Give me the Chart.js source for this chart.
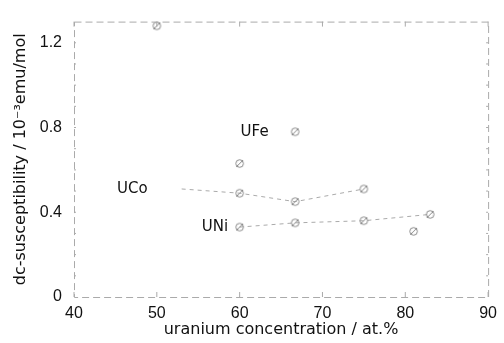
<!DOCTYPE html>
<html>
<head>
<meta charset="utf-8">
<script src="https://cdn.jsdelivr.net/npm/chart.js@4"></script>
<style>
  html, body { margin: 0; padding: 0; background: #fff; }
  #wrap { width: 504px; height: 343px; }
</style>
</head>
<body>
<div id="wrap"><canvas id="chart"></canvas></div>
<script>
// ---- data ----
const ufeX = [50, 60, 66.7];
const ufeY = [1.28, 0.63, 0.78];
const ucoX = [53, 60, 66.7, 75];
const ucoY = [0.51, 0.49, 0.45, 0.51];
const uniX = [60, 66.7, 75, 83];
const uniY = [0.33, 0.35, 0.36, 0.39];
const uniExtraX = [81];
const uniExtraY = [0.31];
const xTicks = [40, 50, 60, 70, 80, 90];
const yTicks = [0, 0.4, 0.8, 1.2];
const seriesLabels = ['UFe', 'UCo', 'UNi'];
const labelAt = [[63.5, 0.78], [48.9, 0.51], [58.6, 0.33]];

const pts = (xs, ys) => xs.map((x, i) => ({ x: x, y: ys[i] }));

// slashed open circle, like the scanned markers
function marker() {
  const c = document.createElement('canvas');
  c.width = 11; c.height = 11;
  const g = c.getContext('2d');
  g.strokeStyle = '#888';
  g.lineWidth = 1;
  g.beginPath(); g.arc(5.5, 5.5, 3.8, 0, Math.PI * 2); g.stroke();
  g.beginPath(); g.moveTo(2, 9); g.lineTo(9, 2); g.stroke();
  return c;
}
const mk = marker();

const tickFont = { family: 'Liberation Sans, Arial, sans-serif', size: 16 };
const titleFont = { family: 'DejaVu Sans, sans-serif', size: 16 };

const frame = {
  id: 'frame',
  afterDraw(chart) {
    const a = chart.chartArea, ctx = chart.ctx;
    ctx.save();
    ctx.strokeStyle = '#aaa';
    ctx.lineWidth = 1;
    ctx.setLineDash([7, 4]);
    ctx.strokeRect(a.left + 0.5, a.top + 0.5, a.right - a.left, a.bottom - a.top);
    ctx.setLineDash([]);
    // small inward ticks on all sides
    const xs = chart.scales.x, ys = chart.scales.y;
    xTicks.forEach(v => {
      const px = xs.getPixelForValue(v);
      ctx.beginPath(); ctx.moveTo(px, a.bottom); ctx.lineTo(px, a.bottom - 5); ctx.stroke();
      ctx.beginPath(); ctx.moveTo(px, a.top); ctx.lineTo(px, a.top + 5); ctx.stroke();
    });
    for (let v = 0.1; v < 1.3; v += 0.1) {
      const py = ys.getPixelForValue(v);
      ctx.beginPath(); ctx.moveTo(a.left, py); ctx.lineTo(a.left + 2, py); ctx.stroke();
      ctx.beginPath(); ctx.moveTo(a.right, py); ctx.lineTo(a.right - 2, py); ctx.stroke();
    }
    // series labels
    ctx.fillStyle = '#111';
    ctx.font = '15px ' + titleFont.family;
    ctx.textAlign = 'right';
    ctx.textBaseline = 'middle';
    seriesLabels.forEach((t, i) => {
      ctx.fillText(t, xs.getPixelForValue(labelAt[i][0]), ys.getPixelForValue(labelAt[i][1]));
    });
    ctx.restore();
  }
};

new Chart(document.getElementById('chart'), {
  type: 'scatter',
  data: {
    datasets: [
      { label: 'UFe', data: pts(ufeX, ufeY), pointStyle: mk, showLine: false },
      { label: 'UCo', data: pts(ucoX, ucoY), pointStyle: mk, showLine: true,
        pointRadius: [0, 4, 4, 4], borderColor: '#aaa', borderWidth: 1, borderDash: [4, 4] },
      { label: 'UNi', data: pts(uniX, uniY), pointStyle: mk, showLine: true,
        borderColor: '#aaa', borderWidth: 1, borderDash: [4, 4] },
      { label: 'UNi2', data: pts(uniExtraX, uniExtraY), pointStyle: mk, showLine: false }
    ]
  },
  options: {
    responsive: true,
    maintainAspectRatio: false,
    animation: false,
    layout: { padding: { top: 14, right: 10, left: 11, bottom: 0 } },
    plugins: { legend: { display: false }, tooltip: { enabled: false } },
    scales: {
      x: {
        type: 'linear', min: 40, max: 90,
        afterBuildTicks: s => { s.ticks = xTicks.map(v => ({ value: v })); },
        afterFit: s => { s.height = 46; },
        grid: { display: false, drawTicks: false },
        border: { display: false },
        ticks: { color: '#111', font: tickFont, padding: 7 },
        title: { display: true, text: 'uranium concentration / at.%', color: '#111',
                 font: titleFont, padding: { top: 1 } }
      },
      y: {
        type: 'linear', min: 0, max: 1.3,
        afterBuildTicks: s => { s.ticks = yTicks.map(v => ({ value: v })); },
        afterFit: s => { s.width = 63; },
        grid: { display: false, drawTicks: false },
        border: { display: false },
        ticks: { color: '#111', font: tickFont, padding: 12, callback: v => v === 0 ? '0' : v.toFixed(1) },
        title: { display: true, text: 'dc-susceptibility / 10\u207B\u00B3emu/mol', color: '#111',
                 font: titleFont, padding: 0 }
      }
    }
  },
  plugins: [frame]
});
</script>
</body>
</html>
